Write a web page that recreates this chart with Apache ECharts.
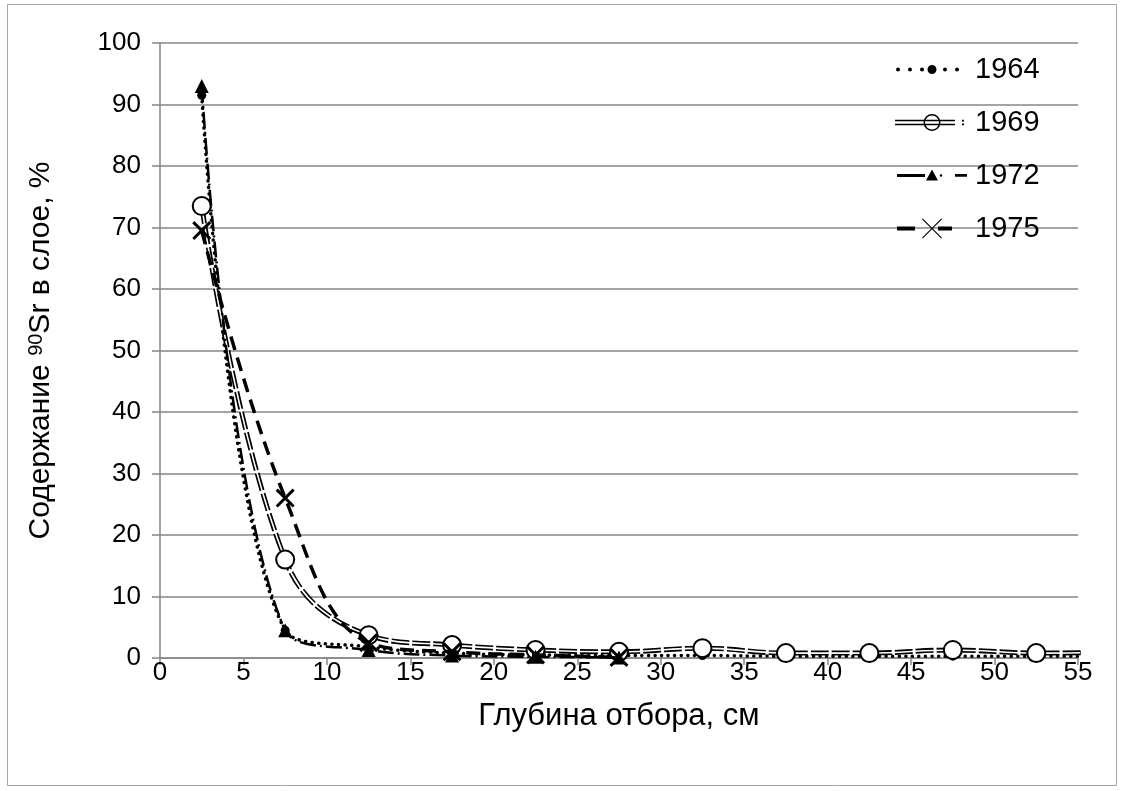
<!DOCTYPE html>
<html>
<head>
<meta charset="utf-8">
<script src="https://cdn.jsdelivr.net/npm/echarts@6/dist/echarts.min.js"></script>
<style>html,body{margin:0;padding:0;background:#fff;}#c{width:1122px;height:791px;}</style>
</head>
<body>
<div id="c"></div>
<script>
var depths = [2.5, 7.5, 12.5, 17.5, 22.5, 27.5, 32.5, 37.5, 42.5, 47.5, 52.5, 57.5];
var y1964 = [91.5, 4.5, 1.8, 0.8, 0.5, 0.4, 0.4, 0.3, 0.3, 0.3, 0.3, 0.3];
var y1969 = [73.5, 16, 3.7, 2.1, 1.3, 1.0, 1.6, 0.8, 0.8, 1.3, 0.8, 1.0];
var y1972 = [93, 4.5, 1.3, 0.4, 0.2, 0.1];
var y1975 = [69.5, 26, 2.5, 1.0, 0.5, 0.1];
var seriesNames = ['1964', '1969', '1972', '1975'];
var xTicks = {min: 0, max: 55, step: 5};
var yTicks = {min: 0, max: 100, step: 10};

function pairs(ys) { return ys.map(function (v, i) { return [depths[i], v]; }); }

// legend icon path helpers (icon box 75 x 20)
function circ(cx, cy, r, ccw) {
  var s = ccw ? 0 : 1;
  return 'M' + (cx + r) + ',' + cy + ' A' + r + ',' + r + ' 0 1,' + s + ' ' + (cx - r) + ',' + cy +
         ' A' + r + ',' + r + ' 0 1,' + s + ' ' + (cx + r) + ',' + cy + ' Z ';
}
function rect(x0, y0, x1, y1) {
  return 'M' + x0 + ',' + y0 + ' L' + x1 + ',' + y0 + ' L' + x1 + ',' + y1 + ' L' + x0 + ',' + y1 + ' Z ';
}
var bounds = 'M0,0 L0,0 Z M75,20 L75,20 Z ';
var icon1964 = 'path://' + bounds + circ(3,10,2) + circ(15,10,2) + circ(27,10,2) + circ(37,10,4.5) + circ(50,10,2) + circ(62,10,2);
var icon1969 = 'path://' + bounds + rect(0,7.3,60,8.8) + rect(0,11.2,60,12.7) + circ(37,10,8.5) + circ(37,10,7,true) + rect(67,7.3,69,9) + rect(67,11,69,12.7);
var icon1972 = 'path://' + bounds + rect(2,8.5,30,11.5) + 'M31,15 L43,15 L37,4 Z ' + circ(46,10,1.3) + rect(60,8.5,72,11.3);
var icon1975 = 'path://' + bounds + rect(2,8,20,12) + 'M27,0.8 L27.8,0 L47,19.2 L46.2,20 Z M46.2,0 L47,0.8 L27.8,20 L27,19.2 Z ' + rect(43,8,57,12);
var xMark = 'path://M0,1.1 L1.1,0 L10,8.9 L8.9,10 Z M8.9,0 L10,1.1 L1.1,10 L0,8.9 Z';

var FONT = 'Liberation Sans, Arial, sans-serif';
var chart = echarts.init(document.getElementById('c'), null, {renderer: 'canvas'});
chart.setOption({
  backgroundColor: '#fff',
  animation: false,
  textStyle: {fontFamily: FONT},
  graphic: [{
    type: 'rect', shape: {x: 7.5, y: 4.5, width: 1109, height: 781},
    style: {fill: 'none', stroke: '#a6a6a6', lineWidth: 1}, z: -10
  }],
  grid: {left: 160, right: 44, top: 43, bottom: 133, containLabel: false},
  legend: {
    orient: 'vertical', left: 895, top: 55, padding: 0,
    itemWidth: 75, itemHeight: 20, itemGap: 24,
    selectedMode: false,
    itemStyle: {color: '#000', borderWidth: 0},
    textStyle: {fontSize: 29, color: '#000', fontFamily: FONT},
    data: [
      {name: seriesNames[0], icon: icon1964},
      {name: seriesNames[1], icon: icon1969},
      {name: seriesNames[2], icon: icon1972},
      {name: seriesNames[3], icon: icon1975}
    ]
  },
  xAxis: {
    type: 'value', min: xTicks.min, max: xTicks.max, interval: xTicks.step,
    name: 'Глубина отбора, см', nameLocation: 'middle', nameGap: 43,
    nameTextStyle: {fontSize: 31, color: '#000', fontFamily: FONT},
    axisLine: {show: true, onZero: false, lineStyle: {color: '#868686', width: 1.5}},
    axisTick: {show: true, inside: false, length: 7, lineStyle: {color: '#868686', width: 1.5}},
    axisLabel: {fontSize: 26, color: '#000', margin: 2, fontFamily: FONT},
    splitLine: {show: false}
  },
  yAxis: {
    type: 'value', min: yTicks.min, max: yTicks.max, interval: yTicks.step,
    name: 'Содержание {sup|90}Sr в слое, %', nameLocation: 'middle', nameGap: 104, nameRotate: 90,
    nameTextStyle: {fontSize: 30, color: '#000', fontFamily: FONT,
      rich: {sup: {fontSize: 20, color: '#000', fontFamily: FONT, verticalAlign: 'top', padding: [0, 0, 10, 0]}}},
    axisLine: {show: true, lineStyle: {color: '#868686', width: 1.5}},
    axisTick: {show: true, inside: false, length: 8, lineStyle: {color: '#868686', width: 1.5}},
    axisLabel: {fontSize: 26, color: '#000', margin: 19, fontFamily: FONT},
    splitLine: {show: true, lineStyle: {color: '#868686', width: 1.5}}
  },
  series: [
    {
      name: seriesNames[0], type: 'line', data: pairs(y1964), smooth: 0.4, clip: true, z: 2,
      symbol: 'circle', symbolSize: 9, showSymbol: true, showAllSymbol: true,
      itemStyle: {color: '#000'},
      lineStyle: {color: '#000', width: 3.5, type: [0.1, 6.5], cap: 'round'}
    },
    {
      name: seriesNames[1], type: 'line', data: pairs(y1969), smooth: 0.4, clip: true, z: 3,
      symbol: 'none', itemStyle: {color: '#000'},
      lineStyle: {color: '#000', width: 5, type: [18, 3]}
    },
    {
      type: 'line', data: pairs(y1969), smooth: 0.4, clip: true, z: 4, silent: true,
      symbol: 'none', lineStyle: {color: '#fff', width: 1.6}
    },
    {
      name: seriesNames[1], type: 'line', data: pairs(y1969), smooth: 0.4, clip: true, z: 5,
      symbol: 'circle', symbolSize: 18, showAllSymbol: true,
      itemStyle: {color: '#fff', borderColor: '#000', borderWidth: 2},
      lineStyle: {opacity: 0, width: 0}
    },
    {
      name: seriesNames[2], type: 'line', data: pairs(y1972), smooth: 0.4, clip: true, z: 6,
      symbol: 'triangle', symbolSize: 14, showAllSymbol: true,
      itemStyle: {color: '#000'},
      lineStyle: {color: '#000', width: 2.5, type: [16, 4, 2, 4]}
    },
    {
      name: seriesNames[3], type: 'line', data: pairs(y1975), smooth: 0.4, clip: true, z: 7,
      symbol: xMark, symbolSize: 19, showAllSymbol: true,
      itemStyle: {color: '#000'},
      lineStyle: {color: '#000', width: 3.5, type: [14, 8]}
    }
  ]
});
</script>
</body>
</html>
